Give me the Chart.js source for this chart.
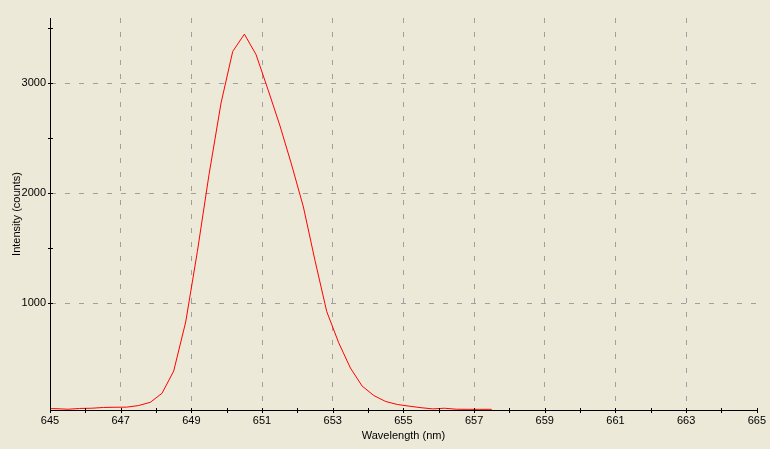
<!DOCTYPE html>
<html>
<head>
<meta charset="utf-8">
<script src="https://cdn.jsdelivr.net/npm/chart.js@4"></script>
<style>
  html, body { margin: 0; padding: 0; background: #ECE9D8; }
  #wrap { width: 770px; height: 449px; }
</style>
</head>
<body>
<div id="wrap"><canvas id="myChart"></canvas></div>
<script>
// spectrum
const wavelengths = [
  644.84, 645.17, 645.51, 645.84, 646.17, 646.51, 646.84, 647.17, 647.50, 647.84,
  648.17, 648.50, 648.84, 649.17, 649.50, 649.84, 650.17, 650.50, 650.83, 651.17,
  651.50, 651.83, 652.17, 652.50, 652.83, 653.17, 653.50, 653.83, 654.16, 654.50,
  654.83, 655.16, 655.50, 655.83, 656.16, 656.50, 656.83, 657.16, 657.50
];
const intensities = [
  42, 42, 37, 44, 46, 53, 55, 56, 70, 100,
  182, 384, 830, 1470, 2170, 2820, 3288, 3445, 3260, 2940,
  2620, 2266, 1875, 1386, 925, 640, 412, 248, 162, 107,
  80, 65, 51, 40, 46, 37, 36, 36, 36
];

// axes
const xTicks = [645, 646, 647, 648, 649, 650, 651, 652, 653, 654, 655,
                656, 657, 658, 659, 660, 661, 662, 663, 664, 665];
const xLabels = [645, 647, 649, 651, 653, 655, 657, 659, 661, 663, 665];
const xGrid = [647, 649, 651, 653, 655, 657, 659, 661, 663];
const yTicks = [1000, 1500, 2000, 2500, 3000, 3500];
const yLabels = [1000, 2000, 3000];

const gridGray = "#A0A0A0";
const labelFont = { family: "Liberation Sans", size: 11 };

// small tick marks that cross the axis lines
const crossTicks = {
  id: "crossTicks",
  afterDraw(chart) {
    const { ctx, chartArea, scales } = chart;
    ctx.save();
    ctx.strokeStyle = "#000";
    ctx.lineWidth = 1;
    ctx.beginPath();
    xTicks.forEach((v) => {
      const px = Math.round(scales.x.getPixelForValue(v)) + 0.5;
      ctx.moveTo(px, chartArea.bottom - 2);
      ctx.lineTo(px, chartArea.bottom + 3);
    });
    yTicks.forEach((v) => {
      const py = Math.round(scales.y.getPixelForValue(v)) + 0.5;
      ctx.moveTo(chartArea.left - 2, py);
      ctx.lineTo(chartArea.left + 3, py);
    });
    ctx.stroke();
    ctx.restore();
  },
};

let spectrumChart = new Chart(document.getElementById("myChart"), {
  type: "line",
  data: {
    datasets: [
      {
        data: wavelengths.map((w, i) => ({ x: w, y: intensities[i] })),
        borderColor: "#FF0000",
        borderWidth: 1,
        pointRadius: 0,
        tension: 0,
        fill: false,
      },
    ],
  },
  options: {
    responsive: true,
    maintainAspectRatio: false,
    animation: false,
    layout: { padding: { top: 18, right: 12, left: 0, bottom: 0 } },
    plugins: {
      legend: { display: false },
      tooltip: { enabled: false },
    },
    scales: {
      x: {
        type: "linear",
        min: 645,
        max: 665,
        afterBuildTicks: (s) => { s.ticks = xTicks.map((v) => ({ value: v })); },
        afterFit: (s) => { s.height = 39; },
        ticks: {
          autoSkip: false,
          maxRotation: 0,
          padding: 4,
          color: "#000",
          font: labelFont,
          callback: (v) => (xLabels.includes(v) ? String(v) : ""),
        },
        grid: {
          drawTicks: false,
          lineWidth: 1,
          color: (c) => (c.tick && xGrid.includes(c.tick.value) ? gridGray : "transparent"),
        },
        border: { display: true, color: "#000", width: 1, dash: [5, 9] },
        title: {
          display: true,
          text: "Wavelength (nm)",
          color: "#000",
          font: labelFont,
          padding: { top: 0, bottom: 6 },
        },
      },
      y: {
        type: "linear",
        min: 30,
        max: 3592,
        afterBuildTicks: (s) => { s.ticks = yTicks.map((v) => ({ value: v })); },
        afterFit: (s) => { s.width = 50; },
        ticks: {
          padding: 4,
          color: "#000",
          font: labelFont,
          callback: (v) => (yLabels.includes(v) ? String(v) : ""),
        },
        grid: {
          drawTicks: false,
          lineWidth: 1,
          color: (c) => (c.tick && yLabels.includes(c.tick.value) ? gridGray : "transparent"),
        },
        border: { display: true, color: "#000", width: 1, dash: [5, 9] },
        title: {
          display: true,
          text: "Intensity (counts)",
          color: "#000",
          font: labelFont,
          padding: { top: 10, bottom: 0 },
        },
      },
    },
  },
  plugins: [crossTicks],
});
</script>
</body>
</html>
